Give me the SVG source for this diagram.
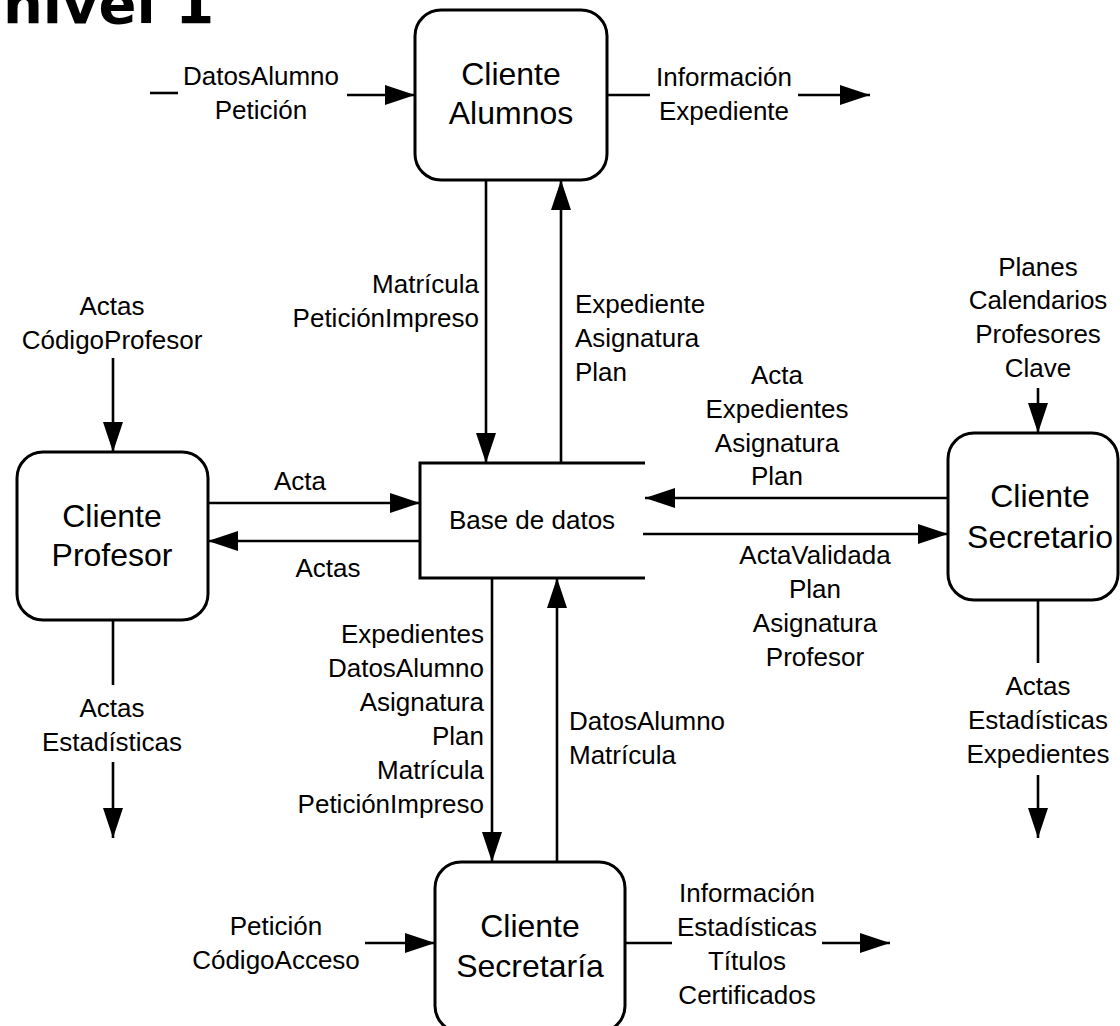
<svg xmlns="http://www.w3.org/2000/svg" width="1120" height="1026" viewBox="0 0 1120 1026">
<style>
.box{fill:#fff;stroke:#000;stroke-width:3}
.ln{fill:none;stroke:#000;stroke-width:2.6}
.arr{marker-end:url(#ah)}
.nt{font-family:"Liberation Sans",Arial,sans-serif;font-size:32px;fill:#000;text-anchor:middle}
.lb{font-family:"Liberation Sans",Arial,sans-serif;font-size:26px;fill:#000;text-anchor:middle}
.r{text-anchor:end}
.l{text-anchor:start}
.title{font-family:"DejaVu Sans",Verdana,sans-serif;font-weight:bold;font-size:56px;fill:#000}
</style>
<defs>
<marker id="ah" markerUnits="userSpaceOnUse" markerWidth="30" markerHeight="20" refX="30" refY="10" orient="auto">
<path d="M0,0 L30,10 L0,20 Z" fill="#000"/>
</marker>
</defs>
<rect width="1120" height="1026" fill="#fff"/>
<text class="title" x="3" y="23">nivel 1</text>

<g id="connectors">
<!-- Alumnos in/out -->
<line class="ln" x1="150" y1="93" x2="178" y2="93"/>
<line class="ln arr" x1="347" y1="95" x2="415" y2="95"/>
<line class="ln" x1="607" y1="95" x2="650" y2="95"/>
<line class="ln arr" x1="798" y1="95" x2="870" y2="95"/>
<!-- Alumnos <-> DB -->
<line class="ln arr" x1="486" y1="180" x2="486" y2="463"/>
<line class="ln arr" x1="561" y1="463" x2="561" y2="180"/>
<!-- Profesor -->
<line class="ln arr" x1="113" y1="358" x2="113" y2="452"/>
<line class="ln arr" x1="208" y1="503" x2="420" y2="503"/>
<line class="ln arr" x1="420" y1="541" x2="208" y2="541"/>
<line class="ln" x1="113" y1="620" x2="113" y2="685"/>
<line class="ln arr" x1="113" y1="762" x2="113" y2="838"/>
<!-- Secretario -->
<line class="ln arr" x1="1038" y1="388" x2="1038" y2="433"/>
<line class="ln arr" x1="948" y1="498" x2="645" y2="498"/>
<line class="ln arr" x1="643" y1="534" x2="948" y2="534"/>
<line class="ln" x1="1038" y1="600" x2="1038" y2="663"/>
<line class="ln arr" x1="1038" y1="775" x2="1038" y2="838"/>
<!-- Secretaria <-> DB -->
<line class="ln arr" x1="492" y1="578" x2="492" y2="862"/>
<line class="ln arr" x1="557" y1="862" x2="557" y2="578"/>
<!-- Secretaria in/out -->
<line class="ln arr" x1="365" y1="943" x2="435" y2="943"/>
<line class="ln" x1="625" y1="943" x2="672" y2="943"/>
<line class="ln arr" x1="822" y1="943" x2="890" y2="943"/>

<!-- labels -->
<text class="lb" x="261" y="85">DatosAlumno</text>
<text class="lb" x="261" y="119">Petición</text>
<text class="lb" x="724" y="86">Información</text>
<text class="lb" x="724" y="120">Expediente</text>
<text class="lb r" x="479" y="293">Matrícula</text>
<text class="lb r" x="479" y="327">PeticiónImpreso</text>
<text class="lb l" x="575" y="313">Expediente</text>
<text class="lb l" x="575" y="347">Asignatura</text>
<text class="lb l" x="575" y="381">Plan</text>
<text class="lb" x="112" y="315">Actas</text>
<text class="lb" x="112" y="349">CódigoProfesor</text>
<text class="lb" x="300" y="490">Acta</text>
<text class="lb" x="328" y="577">Actas</text>
<text class="lb" x="112" y="717">Actas</text>
<text class="lb" x="112" y="751">Estadísticas</text>
<text class="lb" x="1038" y="276">Planes</text>
<text class="lb" x="1038" y="309">Calendarios</text>
<text class="lb" x="1038" y="343">Profesores</text>
<text class="lb" x="1038" y="377">Clave</text>
<text class="lb" x="777" y="384">Acta</text>
<text class="lb" x="777" y="418">Expedientes</text>
<text class="lb" x="777" y="452">Asignatura</text>
<text class="lb" x="777" y="485">Plan</text>
<text class="lb" x="815" y="564">ActaValidada</text>
<text class="lb" x="815" y="598">Plan</text>
<text class="lb" x="815" y="632">Asignatura</text>
<text class="lb" x="815" y="666">Profesor</text>
<text class="lb" x="1038" y="695">Actas</text>
<text class="lb" x="1038" y="729">Estadísticas</text>
<text class="lb" x="1038" y="763">Expedientes</text>
<text class="lb r" x="484" y="643">Expedientes</text>
<text class="lb r" x="484" y="677">DatosAlumno</text>
<text class="lb r" x="484" y="711">Asignatura</text>
<text class="lb r" x="484" y="745">Plan</text>
<text class="lb r" x="484" y="779">Matrícula</text>
<text class="lb r" x="484" y="813">PeticiónImpreso</text>
<text class="lb l" x="569" y="730">DatosAlumno</text>
<text class="lb l" x="569" y="764">Matrícula</text>
<text class="lb" x="276" y="935">Petición</text>
<text class="lb" x="276" y="969">CódigoAcceso</text>
<text class="lb" x="747" y="902">Información</text>
<text class="lb" x="747" y="936">Estadísticas</text>
<text class="lb" x="747" y="970">Títulos</text>
<text class="lb" x="747" y="1004">Certificados</text>
</g>

<g id="cliente-alumnos">
<rect class="box" x="415" y="10" width="192" height="170" rx="26"/>
<text class="nt" x="511" y="85">Cliente</text>
<text class="nt" x="511" y="124">Alumnos</text>
</g>

<g id="cliente-profesor">
<rect class="box" x="17" y="452" width="191" height="168" rx="26"/>
<text class="nt" x="112" y="527">Cliente</text>
<text class="nt" x="112" y="566">Profesor</text>
</g>

<g id="base-de-datos">
<path class="ln" d="M645,463 H420 V578 H645" style="stroke-width:3"/>
<text class="lb" x="532" y="529">Base de datos</text>
</g>

<g id="cliente-secretario">
<rect class="box" x="948" y="433" width="170" height="167" rx="26"/>
<text class="nt" x="1040" y="507">Cliente</text>
<text class="nt" x="1040" y="548">Secretario</text>
</g>

<g id="cliente-secretaria">
<rect class="box" x="435" y="862" width="190" height="170" rx="26"/>
<text class="nt" x="530" y="937">Cliente</text>
<text class="nt" x="530" y="977">Secretaría</text>
</g>
</svg>
